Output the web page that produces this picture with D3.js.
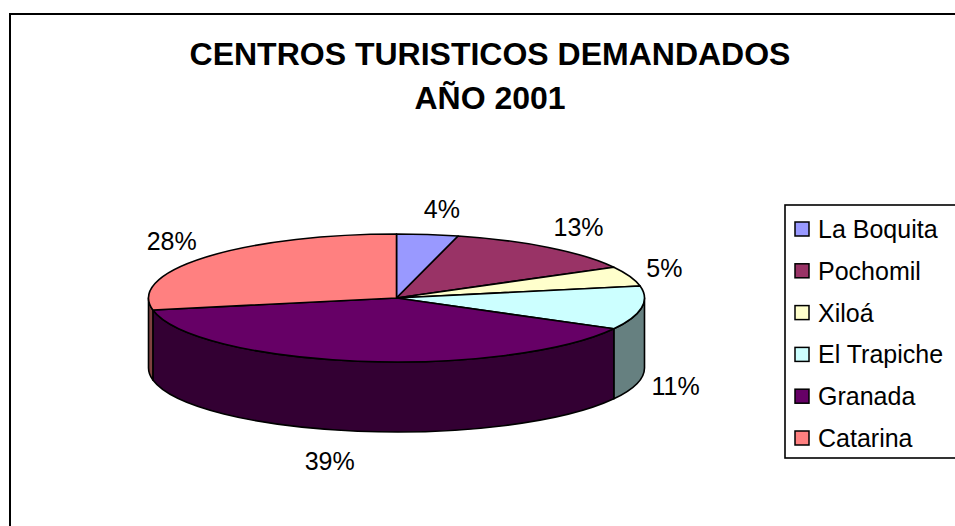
<!DOCTYPE html>
<html><head><meta charset="utf-8">
<script src="https://cdn.jsdelivr.net/npm/d3@7"></script>
<style>
html,body{margin:0;padding:0;background:#fff;}
text{font-family:"Liberation Sans",Arial,sans-serif;}
</style></head>
<body>
<svg id="chart" width="955" height="526"></svg>
<script>
const categories = ["La Boquita","Pochomil","Xiloá","El Trapiche","Granada","Catarina"];
const values = [4, 13, 5, 11, 39, 28];
const colors = ["#9999FF","#993366","#FFFFCC","#CCFFFF","#660066","#FF8080"];
const titleLines = ["CENTROS TURISTICOS DEMANDADOS","AÑO 2001"];

const svg = d3.select("#chart");
const W = 955, H = 526;

// outer frame (partially cropped)
svg.append("path").attr("d", `M10,${H+2} L10,14 L${W+2},14`)
  .attr("fill","none").attr("stroke","#000").attr("stroke-width",2);

// title
svg.append("g").selectAll("text").data(titleLines).join("text")
  .attr("x", 490).attr("y", (d,i)=> 65 + i*44)
  .attr("text-anchor","middle").attr("font-weight","bold").attr("font-size",32)
  .attr("fill","#000").text(d=>d);

// pie geometry
const cx = 396.5, cy = 298, rx = 248, ry = 64, depth = 70;
const total = d3.sum(values);
const pie = d3.pie().sort(null).startAngle(0).endAngle(2*Math.PI).value(d=>d.v);
const arcsData = pie(values.map((v,i)=>({v, name:categories[i], color:colors[i]})));

const P = (a, dy=0) => [cx + rx*Math.sin(a), cy - ry*Math.cos(a) + dy];
const half = c => { const r = d3.rgb(c); return d3.rgb(r.r/2, r.g/2, r.b/2).formatHex(); };

// side faces (front half: angles between PI/2 and 3PI/2)
const sideG = svg.append("g");
arcsData.forEach(d => {
  const b0 = Math.max(d.startAngle, Math.PI/2), b1 = Math.min(d.endAngle, 3*Math.PI/2);
  if (b1 <= b0) return;
  const p0 = P(b0), p1 = P(b1), q1 = P(b1, depth), q0 = P(b0, depth);
  const large = (b1 - b0) > Math.PI ? 1 : 0;
  const path = `M${p0[0]},${p0[1]} A${rx},${ry} 0 ${large} 1 ${p1[0]},${p1[1]} L${q1[0]},${q1[1]} A${rx},${ry} 0 ${large} 0 ${q0[0]},${q0[1]} Z`;
  sideG.append("path").attr("d", path)
    .attr("fill", half(d.data.color)).attr("stroke","#000").attr("stroke-width",1.6)
    .attr("stroke-linejoin","round");
});

// top faces
const arcGen = d3.arc().innerRadius(0).outerRadius(rx);
svg.append("g").attr("transform", `translate(${cx},${cy}) scale(1,${ry/rx})`)
  .selectAll("path").data(arcsData).join("path")
  .attr("d", arcGen)
  .attr("fill", d=>d.data.color).attr("stroke","#000").attr("stroke-width",1.6)
  .attr("vector-effect","non-scaling-stroke").attr("stroke-linejoin","round");

// percentage labels
const B = 90;
svg.append("g").selectAll("text").data(arcsData).join("text")
  .each(function(d){
    const m = (d.startAngle + d.endAngle)/2;
    const s = Math.sin(m), c = Math.cos(m);
    const A = 306 - 24*s*s;
    const x = cx + A*s + (Math.abs(s) < 0.3 ? 7*Math.sign(s) - 12*(c<0?1:0) : 0);
    const y = cy - B*c + (c < 0 ? depth + 4 : 0) + 9;
    d3.select(this).attr("x", x).attr("y", y);
  })
  .attr("text-anchor","middle").attr("font-size",25).attr("fill","#000")
  .text(d => Math.round(d.data.v/total*100) + "%");

// legend
const lg = svg.append("g");
lg.append("rect").attr("x",785).attr("y",205).attr("width",W-785+5).attr("height",253)
  .attr("fill","#fff").attr("stroke","#000").attr("stroke-width",1.6);
const rowY = i => 229 + i*41.8;
lg.selectAll("rect.sw").data(categories).join("rect").attr("class","sw")
  .attr("x",795).attr("y",(d,i)=>rowY(i)-7).attr("width",14).attr("height",14)
  .attr("fill",(d,i)=>colors[i]).attr("stroke","#000").attr("stroke-width",1.5);
lg.selectAll("text").data(categories).join("text")
  .attr("x",818).attr("y",(d,i)=>rowY(i)+9)
  .attr("font-size",25).attr("fill","#000").text(d=>d);
</script>
</body></html>
